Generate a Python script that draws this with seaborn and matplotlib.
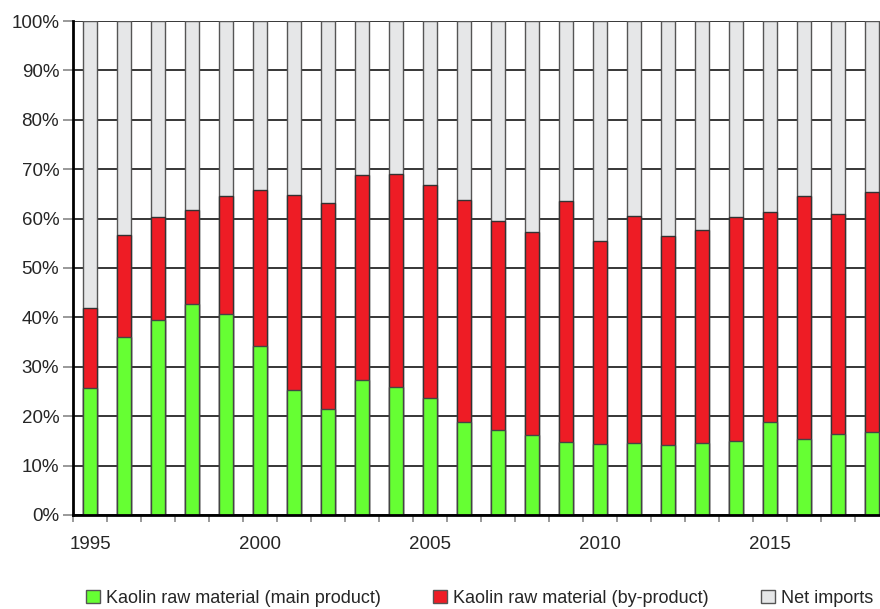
import numpy as np
import pandas as pd
import matplotlib
matplotlib.use("Agg")
import matplotlib.pyplot as plt
from matplotlib.patches import Patch
from matplotlib.ticker import FixedLocator
import seaborn as sns

# Anteile in %
years = list(range(1995, 2019))
main_product = [25.8, 36.0, 39.5, 42.7, 40.6, 34.3, 25.3, 21.5, 27.3, 26.0, 23.7, 18.8,
                17.3, 16.1, 14.8, 14.4, 14.5, 14.1, 14.5, 15.0, 18.8, 15.3, 16.4, 16.8]
by_product = [16.0, 20.7, 20.9, 19.0, 24.0, 31.5, 39.5, 41.6, 41.5, 43.0, 43.2, 45.0,
              42.3, 41.2, 48.8, 41.1, 46.1, 42.4, 43.2, 45.3, 42.5, 49.2, 44.6, 48.6]
net_imports = [58.2, 43.3, 39.6, 38.3, 35.4, 34.2, 35.2, 36.9, 31.2, 31.0, 33.1, 36.2,
               40.4, 42.7, 36.4, 44.5, 39.4, 43.5, 42.3, 39.7, 38.7, 35.5, 39.0, 34.6]
labels = ["Kaolin raw material (main product)", "Kaolin raw material (by-product)", "Net imports"]
colors = ["#66ff33", "#ee1c25", "#e6e7e8"]

df = pd.DataFrame({"year": [str(y) for y in years],
                   "main": main_product, "by": by_product, "imp": net_imports})
df["c1"] = df["main"]
df["c2"] = df["main"] + df["by"]
df["c3"] = df["c2"] + df["imp"]

sns.set_style("white")
plt.rcParams["font.family"] = ["Liberation Sans", "DejaVu Sans"]

fig = plt.figure(figsize=(8.8, 6.09), dpi=100)
ax = fig.add_axes([0.083, 0.1544, 0.917, 0.8111])

# gestapelt: Summe zuerst, dann darueber die kleineren Stapel
for col, c, ec in [("c3", colors[2], "#555555"), ("c2", colors[1], "#333333"), ("c1", colors[0], "#444444")]:
    sns.barplot(data=df, x="year", y=col, color=c, saturation=1, width=0.4, edgecolor=ec,
                linewidth=1.0, errorbar=None, ax=ax, zorder=3)

ax.set_xlim(-0.5, 23.24)
ax.set_ylim(0, 100)
ax.set_xlabel("")
ax.set_ylabel("")

ax.set_yticks(np.arange(0, 101, 10))
ax.set_yticklabels([f"{v}%" for v in range(0, 101, 10)])
ax.yaxis.grid(True, color="black", lw=1.1, zorder=0)
ax.set_axisbelow(True)

ax.set_xticks([0, 5, 10, 15, 20])
ax.set_xticklabels(["1995", "2000", "2005", "2010", "2015"])
ax.xaxis.set_minor_locator(FixedLocator(np.arange(-0.5, 24, 1)))
ax.tick_params(axis="x", which="major", length=0, pad=15, labelsize=13.5)
ax.tick_params(axis="x", which="minor", length=5, width=1.2, color="#888888", direction="out")
ax.tick_params(axis="y", length=7, width=1.2, color="#888888", direction="out", pad=3, labelsize=13.5)
ax.tick_params(bottom=True, left=True, which="both")

for s in ["top", "right"]:
    ax.spines[s].set_visible(False)
ax.spines["left"].set_color("black")
ax.spines["left"].set_linewidth(2)
ax.spines["bottom"].set_color("black")
ax.spines["bottom"].set_linewidth(2)
ax.spines["left"].set_zorder(5)
ax.spines["bottom"].set_zorder(5)

handles = [Patch(facecolor=colors[i], edgecolor="#555555", linewidth=1) for i in range(3)]
fig.legend(handles, labels, loc="center", bbox_to_anchor=(0.545, 0.018), ncol=3,
           frameon=False, fontsize=13, handlelength=0.75, handleheight=0.75,
           handletextpad=0.35, columnspacing=2.9)

fig.savefig("out.png", dpi=100)
